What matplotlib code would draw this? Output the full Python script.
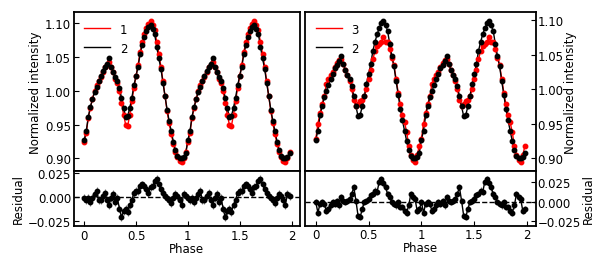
import numpy as np
import matplotlib
matplotlib.use("Agg")
import matplotlib.pyplot as plt

# phase grid for one cycle (shown twice, 0..2)
phase_cycle = np.arange(50) * 0.02

# black curve (2), shared by both panels
curve2 = [0.927, 0.940, 0.962, 0.976, 0.988, 0.998, 1.006, 1.014, 1.022, 1.030,
          1.035, 1.040, 1.048, 1.036, 1.028, 1.020, 1.014, 1.004, 0.990, 0.975,
          0.961, 0.963, 0.975, 0.990, 1.008, 1.022, 1.036, 1.055, 1.068, 1.079,
          1.088, 1.095, 1.098, 1.092, 1.084, 1.065, 1.048, 1.033, 1.012, 0.992,
          0.972, 0.955, 0.940, 0.925, 0.912, 0.904, 0.900, 0.901, 0.902, 0.908]

# red curve (1), left panel
curve1 = [0.925, 0.938, 0.960, 0.975, 0.988, 1.000, 1.008, 1.014, 1.020, 1.028,
          1.035, 1.038, 1.042, 1.035, 1.028, 1.018, 1.012, 1.000, 0.982, 0.965,
          0.950, 0.948, 0.965, 0.985, 1.005, 1.022, 1.038, 1.058, 1.072, 1.084,
          1.093, 1.099, 1.103, 1.098, 1.090, 1.072, 1.055, 1.036, 1.014, 0.992,
          0.970, 0.952, 0.936, 0.922, 0.910, 0.902, 0.896, 0.895, 0.900, 0.910]

# red curve (3), right panel
curve3 = [0.928, 0.950, 0.965, 0.978, 0.990, 1.008, 1.015, 1.020, 1.025, 1.032,
          1.038, 1.042, 1.044, 1.036, 1.028, 1.020, 1.012, 1.000, 0.985, 0.975,
          0.978, 0.983, 0.985, 0.990, 1.000, 1.015, 1.028, 1.043, 1.055, 1.062,
          1.065, 1.068, 1.075, 1.068, 1.068, 1.058, 1.045, 1.035, 1.015, 0.995,
          0.978, 0.962, 0.952, 0.938, 0.918, 0.905, 0.898, 0.895, 0.905, 0.918]

# residuals
resid_left = [-0.001, -0.003, -0.001, -0.005, -0.001, 0.003, 0.006, -0.003, -0.003, 0.001,
              0.004, -0.003, -0.008, -0.001, 0.003, -0.005, -0.001, -0.012, -0.021, -0.015,
              -0.012, -0.016, -0.008, -0.003, 0.004, 0.006, 0.006, 0.011, 0.013, 0.011,
              0.008, 0.004, 0.010, 0.011, 0.017, 0.019, 0.013, 0.008, 0.004, 0.001,
              -0.001, -0.003, -0.006, -0.001, 0.003, 0.001, -0.003, -0.008, 0.003, 0.001]

resid_right = [-0.001, -0.014, -0.003, -0.001, -0.003, -0.012, -0.009, -0.005, -0.001, -0.003,
               0.001, -0.005, 0.006, 0.001, -0.001, 0.001, 0.003, 0.010, 0.018, 0.001,
               -0.018, -0.020, -0.009, -0.001, 0.001, 0.003, 0.008, 0.010, 0.014, 0.012,
               0.025, 0.029, 0.023, 0.018, 0.010, 0.006, -0.001, -0.003, -0.005, -0.001,
               -0.007, -0.007, -0.012, -0.014, -0.005, 0.010, 0.006, 0.003, -0.012, -0.010]

err_top = 0.003
err_res = 0.004

phase = np.concatenate([phase_cycle, phase_cycle + 1])
def two(a):
    return np.concatenate([a, a])

fig = plt.figure(figsize=(5.95, 2.55), dpi=100)
axes = {
    'lt': fig.add_axes([0.124, 0.325, 0.380, 0.624]),
    'lb': fig.add_axes([0.124, 0.110, 0.380, 0.216]),
    'rt': fig.add_axes([0.513, 0.325, 0.387, 0.624]),
    'rb': fig.add_axes([0.513, 0.110, 0.387, 0.216]),
}

fs = 8.5

def top_panel(ax, red, red_label):
    ax.plot(phase, two(red), color='red', lw=1, label=red_label)
    ax.errorbar(phase, two(red), yerr=err_top, fmt='o', color='red', ms=3.2,
                ecolor='#ff9090', elinewidth=0.8)
    ax.plot(phase, two(curve2), color='black', lw=1, label='2')
    ax.errorbar(phase, two(curve2), yerr=err_top, fmt='o', color='black', ms=3.2,
                ecolor='gray', elinewidth=0.8)
    ax.set_yticks([0.90, 0.95, 1.00, 1.05, 1.10])
    ax.tick_params(direction='in', labelsize=fs, pad=2, bottom=False, labelbottom=False)
    ax.legend(loc='upper left', frameon=False, fontsize=fs, handlelength=2.2)
    ax.set_ylabel('Normalized intensity', fontsize=fs, labelpad=2)

def res_panel(ax, res):
    ax.errorbar(phase, two(res), yerr=err_res, fmt='o-', color='black', ms=3.2,
                lw=1, ecolor='gray', elinewidth=0.8, capsize=0)
    ax.axhline(0, color='black', ls='--', lw=1)
    ax.set_yticks([-0.025, 0.0, 0.025])
    ax.set_xticks([0, 0.5, 1, 1.5, 2])
    ax.set_xticklabels(['0', '0.5', '1', '1.5', '2'])
    ax.tick_params(direction='in', labelsize=fs, pad=2)
    ax.set_xlabel('Phase', fontsize=fs, labelpad=0)
    ax.set_ylabel('Residual', fontsize=fs, labelpad=2)

top_panel(axes['lt'], curve1, '1')
top_panel(axes['rt'], curve3, '3')
res_panel(axes['lb'], resid_left)
res_panel(axes['rb'], resid_right)

axes['lb'].set_ylim(-0.030, 0.027)
axes['rb'].set_ylim(-0.031, 0.039)
for k in ['lt', 'lb']:
    axes[k].set_xlim(-0.1, 2.08)
for k in ['rt', 'rb']:
    axes[k].set_xlim(-0.1, 2.08)
    axes[k].yaxis.tick_right()
    axes[k].yaxis.set_label_position('right')
    axes[k].tick_params(pad=1.5)
    axes[k].yaxis.labelpad = 0.5

for ax in axes.values():
    for s in ax.spines.values():
        s.set_linewidth(1.3)

fig.savefig('out.png', dpi=100)
